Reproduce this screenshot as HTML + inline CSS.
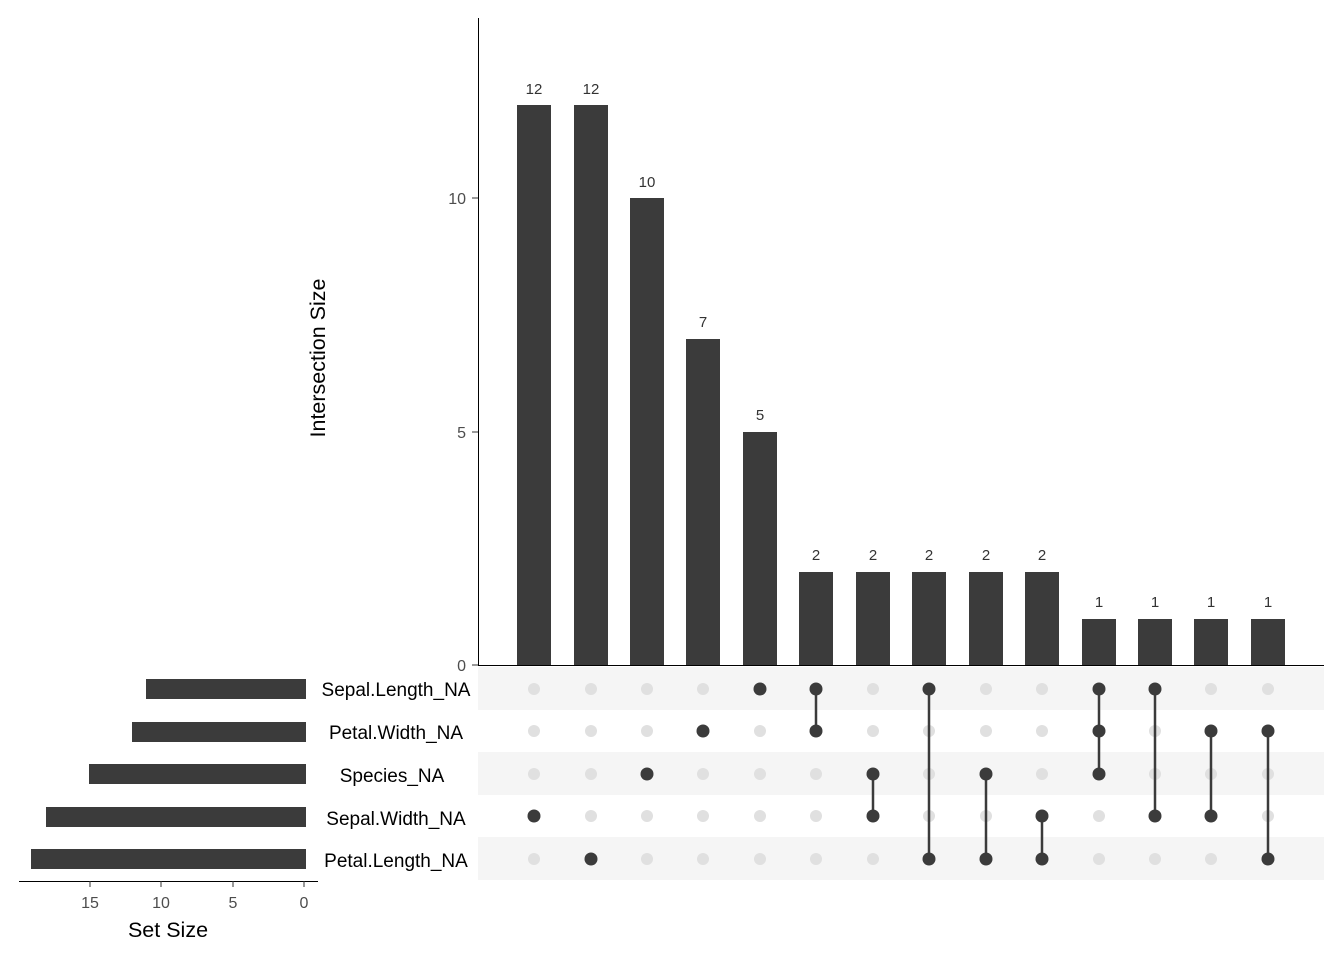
<!DOCTYPE html>
<html><head><style>body{margin:0;background:#fff}svg{display:block}</style></head><body>
<svg width="1344" height="960" xmlns="http://www.w3.org/2000/svg" font-family="Liberation Sans, sans-serif">
<defs>
<g id="c"><circle cx="0" cy="689" r="6"/><circle cx="0" cy="731" r="6"/><circle cx="0" cy="774" r="6"/><circle cx="0" cy="816" r="6"/><circle cx="0" cy="859" r="6"/></g>
</defs>
<rect width="1344" height="960" fill="#fff"/>
<!-- matrix stripes -->
<rect x="478" y="667" width="846" height="43" fill="#f5f5f5"/>
<rect x="478" y="752" width="846" height="43" fill="#f5f5f5"/>
<rect x="478" y="837" width="846" height="43" fill="#f5f5f5"/>
<!-- main axes -->
<line x1="478.5" y1="18" x2="478.5" y2="665" stroke="#000" stroke-width="1"/>
<line x1="478" y1="665.5" x2="1324" y2="665.5" stroke="#000" stroke-width="1"/>
<g stroke="#333"><line x1="472" y1="665" x2="478" y2="665"/><line x1="472" y1="432" x2="478" y2="432"/><line x1="472" y1="198" x2="478" y2="198"/></g>
<g font-size="16" fill="#4d4d4d" text-anchor="end"><text x="466" y="671">0</text><text x="466" y="438">5</text><text x="466" y="204">10</text></g>
<text transform="translate(325,358) rotate(-90)" font-size="21.5" text-anchor="middle" fill="#000">Intersection Size</text>
<!-- bars -->
<g fill="#3b3b3b">
<rect x="517" y="105" width="34" height="560"/>
<rect x="574" y="105" width="34" height="560"/>
<rect x="630" y="198" width="34" height="467"/>
<rect x="686" y="339" width="34" height="326"/>
<rect x="743" y="432" width="34" height="233"/>
<rect x="799" y="572" width="34" height="93"/>
<rect x="856" y="572" width="34" height="93"/>
<rect x="912" y="572" width="34" height="93"/>
<rect x="969" y="572" width="34" height="93"/>
<rect x="1025" y="572" width="34" height="93"/>
<rect x="1082" y="619" width="34" height="46"/>
<rect x="1138" y="619" width="34" height="46"/>
<rect x="1194" y="619" width="34" height="46"/>
<rect x="1251" y="619" width="34" height="46"/>
</g>
<g font-size="15" fill="#333" text-anchor="middle">
<text x="534" y="94">12</text><text x="591" y="94">12</text><text x="647" y="187">10</text><text x="703" y="327">7</text><text x="760" y="420">5</text>
<text x="816" y="560">2</text><text x="873" y="560">2</text><text x="929" y="560">2</text><text x="986" y="560">2</text><text x="1042" y="560">2</text>
<text x="1099" y="607">1</text><text x="1155" y="607">1</text><text x="1211" y="607">1</text><text x="1268" y="607">1</text>
</g>
<!-- grey dots -->
<g fill="#e0e0e0">
<use href="#c" x="534"/><use href="#c" x="591"/><use href="#c" x="647"/><use href="#c" x="703"/><use href="#c" x="760"/><use href="#c" x="816"/><use href="#c" x="873"/><use href="#c" x="929"/><use href="#c" x="986"/><use href="#c" x="1042"/><use href="#c" x="1099"/><use href="#c" x="1155"/><use href="#c" x="1211"/><use href="#c" x="1268"/>
</g>
<!-- lines -->
<g stroke="#3b3b3b" stroke-width="2.5">
<line x1="816" y1="689" x2="816" y2="731"/>
<line x1="873" y1="774" x2="873" y2="816"/>
<line x1="929" y1="689" x2="929" y2="859"/>
<line x1="986" y1="774" x2="986" y2="859"/>
<line x1="1042" y1="816" x2="1042" y2="859"/>
<line x1="1099" y1="689" x2="1099" y2="774"/>
<line x1="1155" y1="689" x2="1155" y2="816"/>
<line x1="1211" y1="731" x2="1211" y2="816"/>
<line x1="1268" y1="731" x2="1268" y2="859"/>
</g>
<g fill="#3b3b3b">
<circle cx="534" cy="816" r="6.5"/><circle cx="591" cy="859" r="6.5"/><circle cx="647" cy="774" r="6.5"/><circle cx="703" cy="731" r="6.5"/><circle cx="760" cy="689" r="6.5"/>
<circle cx="816" cy="689" r="6.5"/><circle cx="816" cy="731" r="6.5"/>
<circle cx="873" cy="774" r="6.5"/><circle cx="873" cy="816" r="6.5"/>
<circle cx="929" cy="689" r="6.5"/><circle cx="929" cy="859" r="6.5"/>
<circle cx="986" cy="774" r="6.5"/><circle cx="986" cy="859" r="6.5"/>
<circle cx="1042" cy="816" r="6.5"/><circle cx="1042" cy="859" r="6.5"/>
<circle cx="1099" cy="689" r="6.5"/><circle cx="1099" cy="731" r="6.5"/><circle cx="1099" cy="774" r="6.5"/>
<circle cx="1155" cy="689" r="6.5"/><circle cx="1155" cy="816" r="6.5"/>
<circle cx="1211" cy="731" r="6.5"/><circle cx="1211" cy="816" r="6.5"/>
<circle cx="1268" cy="731" r="6.5"/><circle cx="1268" cy="859" r="6.5"/>
</g>
<!-- set labels -->
<g font-size="19" fill="#000" text-anchor="middle">
<text x="396" y="696">Sepal.Length_NA</text>
<text x="396" y="739">Petal.Width_NA</text>
<text x="392" y="782">Species_NA</text>
<text x="396" y="825">Sepal.Width_NA</text>
<text x="396" y="867">Petal.Length_NA</text>
</g>
<!-- set size bars -->
<g fill="#3b3b3b">
<rect x="146" y="679" width="160" height="20"/>
<rect x="132" y="722" width="174" height="20"/>
<rect x="89" y="764" width="217" height="20"/>
<rect x="46" y="807" width="260" height="20"/>
<rect x="31" y="849" width="275" height="20"/>
</g>
<line x1="19" y1="881.5" x2="318" y2="881.5" stroke="#000"/>
<g stroke="#333"><line x1="90" y1="881" x2="90" y2="887"/><line x1="161" y1="881" x2="161" y2="887"/><line x1="233" y1="881" x2="233" y2="887"/><line x1="304" y1="881" x2="304" y2="887"/></g>
<g font-size="16" fill="#4d4d4d" text-anchor="middle"><text x="90" y="908">15</text><text x="161" y="908">10</text><text x="233" y="908">5</text><text x="304" y="908">0</text></g>
<text x="168" y="937" font-size="21.5" text-anchor="middle" fill="#000">Set Size</text>
</svg>
</body></html>
